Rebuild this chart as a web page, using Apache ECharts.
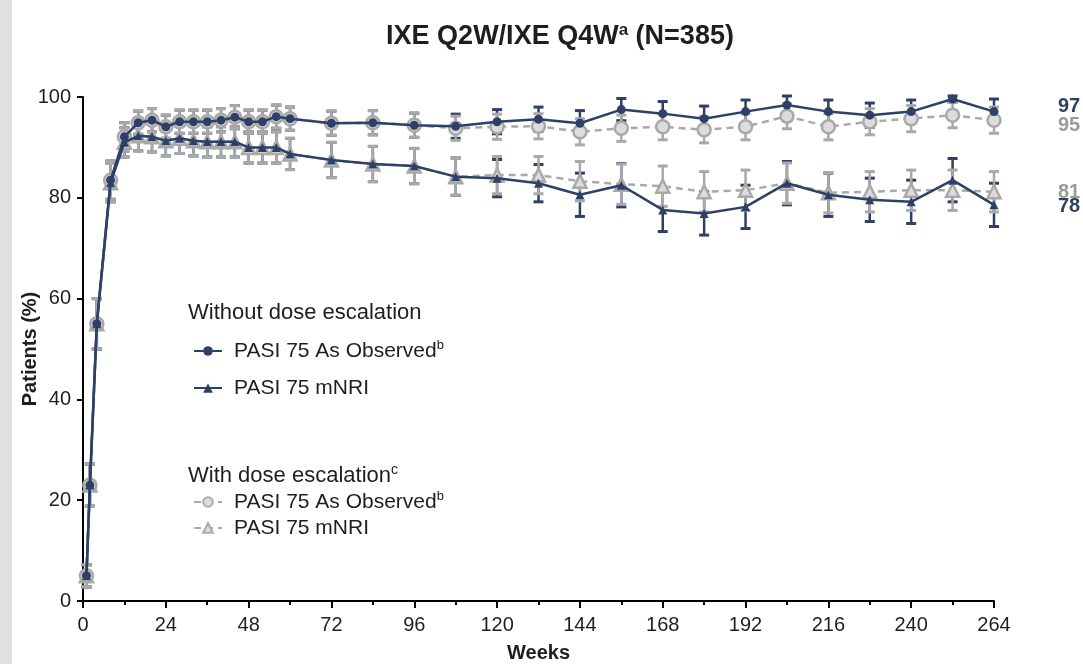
<!DOCTYPE html>
<html>
<head>
<meta charset="utf-8">
<script src="https://cdn.jsdelivr.net/npm/echarts@6/dist/echarts.min.js"></script>
<style>
html,body{margin:0;padding:0;background:#fff;}
#chart{width:1083px;height:664px;}
</style>
</head>
<body>
<div id="chart"></div>
<script>
// ---- Data ----
const weeks = [1,2,4,8,12,16,20,24,28,32,36,40,44,48,52,56,60,72,84,96,108,120,132,144,156,168,180,192,204,216,228,240,252,264];

// Without dose escalation
const aoWithout  = [5,23,55,83.5,92.1,94.9,95.4,94.1,95.1,95.1,95.1,95.4,96.0,95.1,95.1,96.1,95.7,94.8,94.9,94.4,94.2,95.1,95.6,94.8,97.5,96.7,95.7,97.1,98.4,97.1,96.4,97.1,99.6,97.1];
const nriWithout = [5,23,55,83,91,92.3,92.1,91.3,91.8,91.3,91.1,91.1,91.1,90.0,90.0,90.0,88.7,87.5,86.7,86.3,84.2,83.9,82.9,80.6,82.5,77.6,76.9,78.2,82.9,80.6,79.6,79.2,83.5,78.6];
// With dose escalation
const aoWith  = [5,23,55,83.5,92.1,94.9,95.4,94.1,95.1,95.1,95.1,95.4,96.0,95.1,95.1,96.1,95.7,94.8,94.9,94.4,93.8,94.1,94.2,93.1,93.8,94.1,93.5,94.1,96.2,94.1,95.1,95.7,96.4,95.4];
const nriWith = [5,23,55,83,91,92.3,92.1,91.3,91.8,91.3,91.1,91.1,91.1,90.0,90.0,90.0,88.7,87.5,86.7,86.3,84.2,84.5,84.5,83.3,82.7,82.3,81.2,81.5,82.9,81.0,81.2,81.5,81.5,81.2];

// 95% CI half-widths (error bars)
const aoWithoutCI  = [2.2,4.2,5,3.8,2.8,2.3,2.3,2.3,2.3,2.3,2.3,2.3,2.3,2.3,2.3,2.3,2.3,2.4,2.4,2.4,2.4,2.4,2.4,2.5,2.2,2.4,2.5,2.3,1.8,2.3,2.4,2.3,0.6,2.5];
const nriWithoutCI = [2.2,4.2,5,3.8,2.9,3.0,3.0,3.0,3.0,3.0,3.0,3.0,3.0,3.1,3.1,3.1,3.1,3.5,3.5,3.5,3.7,3.7,3.7,4.3,4.3,4.3,4.3,4.3,4.3,4.3,4.3,4.3,4.3,4.3];
const aoWithCI  = [2.2,4.2,5,3.8,2.8,2.3,2.3,2.3,2.3,2.3,2.3,2.3,2.3,2.3,2.3,2.3,2.3,2.4,2.4,2.4,2.4,2.5,2.5,2.6,2.6,2.6,2.6,2.6,2.5,2.6,2.6,2.6,2.5,2.6];
const nriWithCI = [2.2,4.2,5,3.8,2.9,3.0,3.0,3.0,3.0,3.0,3.0,3.0,3.0,3.1,3.1,3.1,3.1,3.5,3.5,3.5,3.7,3.7,3.7,3.9,4.0,4.0,4.0,4.0,4.0,4.0,4.0,4.0,4.0,4.0];

const endLabels = {aoWithout:'97', nriWithout:'78', aoWith:'95', nriWith:'81'};
const xTickLabels = [0,24,48,72,96,120,144,168,192,216,240,264];
const yTickLabels = [0,20,40,60,80,100];

// ---- Styling ----
const NAVY = '#2e4068';
const GREY = '#a9a9a9';
const FONT = 'Liberation Sans, Arial, sans-serif';
const TXT = '#1e1e1e';

function pairs(vals){ return weeks.map((w,i)=>[w, vals[i]]); }
function errData(vals, ci){ return weeks.map((w,i)=>[w, vals[i]-ci[i], vals[i]+ci[i]]); }
function errRender(color){
  return function(params, api){
    const x = api.value(0), lo = api.value(1), hi = api.value(2);
    const p1 = api.coord([x, hi]), p2 = api.coord([x, lo]);
    const w = 5;
    return {type:'group', children:[
      {type:'line', shape:{x1:p1[0],y1:p1[1],x2:p2[0],y2:p2[1]}, style:{stroke:color,lineWidth:2.5}},
      {type:'line', shape:{x1:p1[0]-w,y1:p1[1],x2:p1[0]+w,y2:p1[1]}, style:{stroke:color,lineWidth:3}},
      {type:'line', shape:{x1:p2[0]-w,y1:p2[1],x2:p2[0]+w,y2:p2[1]}, style:{stroke:color,lineWidth:3}}
    ]};
  };
}

const names = {
  aoWithout:'AO_without', nriWithout:'NRI_without', aoWith:'AO_with', nriWith:'NRI_with'
};
const legendText = {
  AO_without:'PASI 75 As Observed{sup|b}',
  NRI_without:'PASI 75 mNRI',
  AO_with:'PASI 75 As Observed{sup|b}',
  NRI_with:'PASI 75 mNRI'
};
const richSup = {
  sup:{fontSize:13, fontFamily:FONT, color:TXT, verticalAlign:'top', padding:[0,0,11,0]}
};

function lineSeries(key, vals, color, dashed, symbol, size, z, labOffset){
  const isGrey = color === GREY;
  return {
    name: names[key], type:'line', data: pairs(vals), z: z,
    symbol: symbol, symbolSize: size,
    lineStyle:{color: color, width: 2.5, type: dashed ? [7,5] : 'solid'},
    itemStyle:{color: isGrey ? '#dcdcdc' : color, borderColor: color, borderWidth: isGrey ? 2.5 : 0},
    emphasis:{disabled:true},
    endLabel:{show:true, formatter: endLabels[key], distance:0, offset:labOffset,
      fontSize:20, fontWeight:'bold', fontFamily:FONT, color: isGrey ? '#9a9a9a' : NAVY}
  };
}

const chart = echarts.init(document.getElementById('chart'));
const option = {
  backgroundColor:'#fff',
  animation:false,
  graphic:[
    {type:'rect', left:0, top:0, shape:{width:12, height:664}, style:{fill:'#e0e0e0'}},
    {type:'text', x:560, y:37, style:{
      text:'IXE Q2W/IXE Q4W{sup|a} (N=385)', fill:TXT, font:'bold 27px '+FONT,
      textAlign:'center', textVerticalAlign:'middle',
      rich:{sup:{fontSize:17, fontWeight:'bold', fontFamily:FONT, fill:TXT, verticalAlign:'top', padding:[0,0,13,0]}}
    }},
    {type:'text', x:188, y:313, style:{text:'Without dose escalation', fill:TXT, font:'22px '+FONT, textVerticalAlign:'middle'}},
    {type:'text', x:188, y:476, style:{text:'With dose escalation{sup|c}', fill:TXT, font:'22px '+FONT, textVerticalAlign:'middle',
      rich:{sup:{fontSize:14, fontFamily:FONT, fill:TXT, verticalAlign:'top', padding:[0,0,11,0]}}}}
  ],
  grid:{left:83, right:89, top:97, bottom:63, outerBoundsMode:'none', containLabel:false},
  legend:[
    {data:['AO_without','NRI_without'], orient:'vertical', left:188, top:334, itemGap:13,
     itemWidth:28, itemHeight:12, formatter:n=>legendText[n],
     textStyle:{fontSize:21, fontFamily:FONT, color:TXT, lineHeight:24, padding:[0,0,0,7], rich:richSup}, selectedMode:false},
    {data:['AO_with','NRI_with'], orient:'vertical', left:188, top:485, itemGap:2,
     itemWidth:28, itemHeight:12, formatter:n=>legendText[n],
     textStyle:{fontSize:21, fontFamily:FONT, color:TXT, lineHeight:24, padding:[0,0,0,7], rich:richSup}, selectedMode:false}
  ],
  xAxis:{
    type:'value', min:0, max:264, interval:24,
    name:'Weeks', nameLocation:'middle', nameGap:42, nameMoveOverlap:false,
    nameTextStyle:{fontSize:20, fontWeight:'bold', fontFamily:FONT, color:TXT},
    axisLine:{show:true, lineStyle:{color:'#000', width:2}},
    axisTick:{show:true, length:7, lineStyle:{color:'#000', width:2}},
    minorTick:{show:true, splitNumber:2, length:4, lineStyle:{color:'#000', width:2}},
    splitLine:{show:false}, minorSplitLine:{show:false},
    axisLabel:{fontSize:20, fontFamily:FONT, color:TXT, margin:14,
      formatter:v=> xTickLabels.indexOf(v) >= 0 ? String(v) : ''}
  },
  yAxis:{
    type:'value', min:0, max:100, interval:20,
    name:'Patients (%)', nameLocation:'middle', nameGap:43, nameMoveOverlap:false,
    nameTextStyle:{fontSize:20, fontWeight:'bold', fontFamily:FONT, color:TXT},
    axisLine:{show:true, lineStyle:{color:'#000', width:2}},
    axisTick:{show:true, length:6, lineStyle:{color:'#000', width:2}},
    splitLine:{show:false},
    axisLabel:{fontSize:20, fontFamily:FONT, color:TXT, margin:12,
      formatter:v=> yTickLabels.indexOf(v) >= 0 ? String(v) : ''}
  },
  series:[
    {type:'custom', name:'err_nri_without', data:errData(nriWithout, nriWithoutCI), renderItem:errRender(NAVY), encode:{x:0,y:[1,2]}, z:2, silent:true},
    {type:'custom', name:'err_ao_without', data:errData(aoWithout, aoWithoutCI), renderItem:errRender(NAVY), encode:{x:0,y:[1,2]}, z:2, silent:true},
    {type:'custom', name:'err_nri_with', data:errData(nriWith, nriWithCI), renderItem:errRender(GREY), encode:{x:0,y:[1,2]}, z:3, silent:true},
    {type:'custom', name:'err_ao_with', data:errData(aoWith, aoWithCI), renderItem:errRender(GREY), encode:{x:0,y:[1,2]}, z:3, silent:true},
    lineSeries('nriWith', nriWith, GREY, true, 'triangle', 13, 4, [64,1]),
    lineSeries('aoWith', aoWith, GREY, true, 'circle', 13, 4, [64,5]),
    lineSeries('nriWithout', nriWithout, NAVY, false, 'triangle', 9, 5, [64,2]),
    lineSeries('aoWithout', aoWithout, NAVY, false, 'circle', 9, 5, [64,-5])
  ]
};
chart.setOption(option);
</script>
</body>
</html>
